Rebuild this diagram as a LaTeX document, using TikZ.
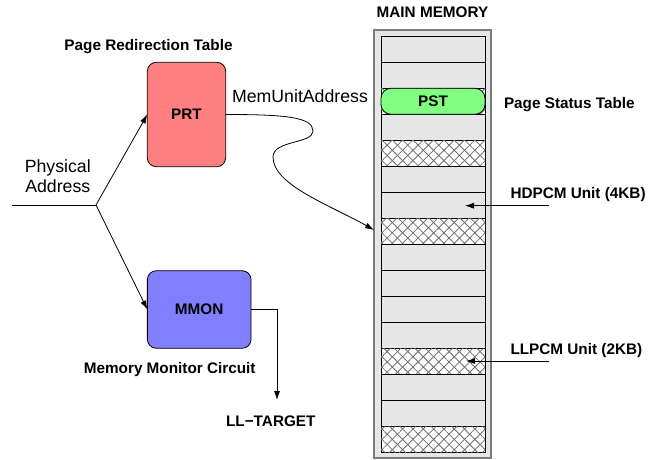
\documentclass[tikz,border=0pt]{standalone}
\usepackage{fontspec}
\setmainfont{Liberation Sans}
\usetikzlibrary{arrows.meta,patterns.meta}
\definecolor{prtred}{HTML}{FF8080}
\definecolor{mmonblue}{HTML}{8080FF}
\definecolor{pstgreen}{HTML}{80FF80}
\definecolor{cellgray}{HTML}{E6E6E6}
\definecolor{framegray}{HTML}{7A7A7A}
\definecolor{hatchgray}{HTML}{6E6E6E}
\begin{document}
\begin{tikzpicture}[x=1pt,y=-1pt,
  every node/.style={inner sep=0pt,outer sep=0pt},
  lbl/.style={font=\fontsize{15.3}{17}\selectfont\bfseries,text height=11pt,text depth=0pt},
  plainlbl/.style={font=\fontsize{17.7}{19.4}\selectfont,text height=12.7pt,text depth=0pt},
  unitbox/.style={draw=black,line width=0.8pt,rounded corners=9pt,
    font=\fontsize{15.3}{17}\selectfont\bfseries},
  conn/.style={line width=0.8pt},
  arr/.style={conn,-{Latex[length=9pt,width=6pt]}},
  cell/.style={draw=black,line width=0.8pt,fill=cellgray},
  hatchcell/.style={draw=black,line width=0.8pt,fill=white,
    postaction={pattern={Lines[angle=45,distance=7.3pt,line width=0.8pt]},pattern color=hatchgray},
    postaction={pattern={Lines[angle=-45,distance=7.3pt,line width=0.8pt]},pattern color=hatchgray}}
]
\useasboundingbox (0,0) rectangle (658,460);

% ---- main memory column ----
\node[lbl] (memtitle) at (432.5,12.5) {MAIN MEMORY};
\node[draw=framegray,line width=1.6pt,fill=cellgray,minimum width=117pt,minimum height=428pt] (mem) at (432.5,244) {};
\foreach \i in {0,...,15}{
  \pgfmathsetmacro{\ytop}{36+26*\i}
  \pgfmathsetmacro{\ybot}{62+26*\i}
  \ifnum\i=2 \def\cs{hatchcell}\else
  \ifnum\i=4 \def\cs{hatchcell}\else
  \ifnum\i=7 \def\cs{hatchcell}\else
  \ifnum\i=12 \def\cs{hatchcell}\else
  \ifnum\i=15 \def\cs{hatchcell}\else
  \def\cs{cell}\fi\fi\fi\fi\fi
  \path[\cs] (381,\ytop) rectangle (485,\ybot);
}
\node[unitbox,fill=pstgreen,minimum width=104pt,minimum height=26pt,rounded corners=10pt] (pst) at (433,101.3) {PST};
\node[lbl,anchor=west] (psttitle) at (504,102.5) {Page Status Table};

% unit size annotations
\node[lbl,anchor=west] (hdtitle) at (510.5,193.3) {HDPCM Unit (4KB)};
\node[lbl,anchor=west] (lltitle) at (510.5,349.3) {LLPCM Unit (2KB)};
\coordinate (hdfrom) at (549,205.7);
\coordinate (hdto) at (465,205.7);
\coordinate (llfrom) at (549,361);
\coordinate (llto) at (466,361);
\draw[arr] (hdfrom) -- (hdto);
\draw[arr] (llfrom) -- (llto);

% ---- redirection and monitor units ----
\node[lbl] (prttitle) at (148.5,44.7) {Page Redirection Table};
\node[unitbox,fill=prtred,minimum width=78.4pt,minimum height=104.4pt] (prt) at (186.5,114.5) {PRT};
\node[unitbox,fill=mmonblue,minimum width=103.7pt,minimum height=77.6pt] (mmon) at (199.2,309.5) {MMON};
\node[lbl] (mmontitle) at (169.7,368.3) {Memory Monitor Circuit};

% physical address input
\node[plainlbl] (phys) at (57.8,166.3) {Physical};
\node[plainlbl] (addr) at (57.8,185.7) {Address};
\coordinate (pin) at (12,205);
\coordinate (split) at (96,205);
\draw[conn] (pin) -- (split);
\draw[arr] (split) -- (prt.west);
\draw[arr] (split) -- (mmon.west);

% redirected unit address into main memory
\node[plainlbl] (mua) at (300,96) {MemUnitAddress};
\coordinate (memin) at (374,230);
\draw[arr] (prt.east) .. controls (285,114.5) and (313,117) .. (313,131)
  .. controls (313,144) and (273,140) .. (273,157)
  .. controls (273,185) and (330,205) .. (memin);

% monitor output
\coordinate (lltip) at (277,400);
\draw[arr] (mmon.east) -| (lltip);
\node[lbl] (lltarget) at (270.8,421) {LL−TARGET};
\end{tikzpicture}
\end{document}
